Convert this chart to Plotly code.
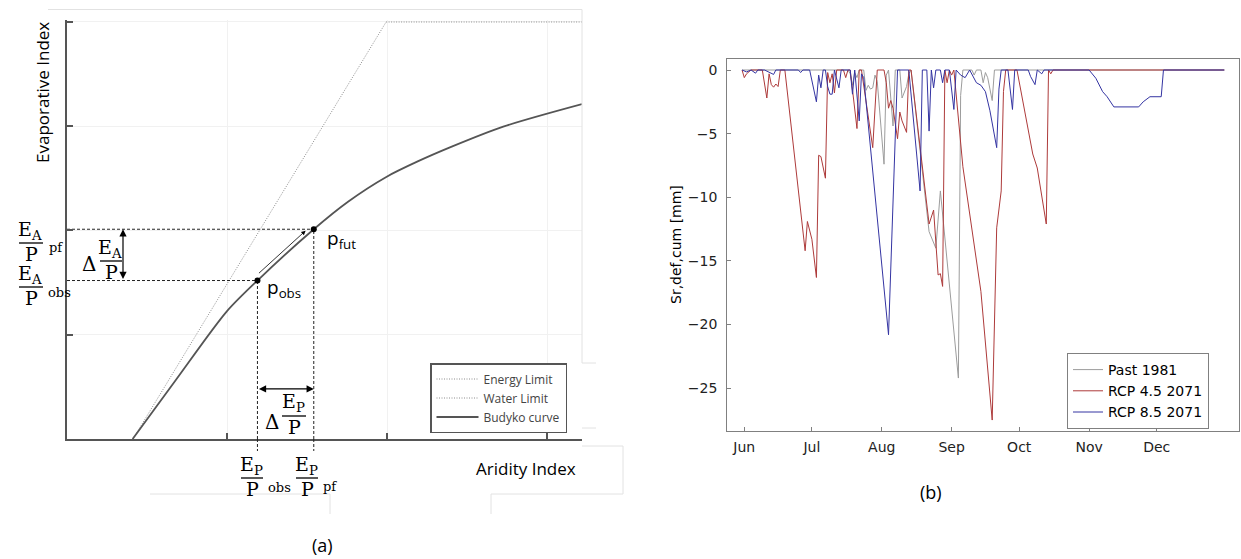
import datetime as dt
import plotly.graph_objects as go

W, H = 1241, 559

# ---------------- Panel (a): Budyko framework (schematic units) ----------------
budyko_ai = [0.205, 0.340, 0.498, 0.595, 0.771, 0.878, 0.999, 1.094, 1.202, 1.363, 1.609]
budyko_ei = [0.000, 0.1415, 0.305, 0.380, 0.503, 0.569, 0.629, 0.665, 0.701, 0.749, 0.803]
energy_ai = [0.206, 0.997]
energy_ei = [0.0, 1.0]
water_ai = [0.997, 1.609]
water_ei = [1.0, 1.0]
p_obs = (0.595, 0.380)
p_fut = (0.771, 0.503)

# ---------------- Panel (b): cumulative root-zone storage deficit ----------------
season_start = dt.date(2021, 6, 1)
month_ticks = ["2021-06-01", "2021-07-01", "2021-08-01", "2021-09-01",
               "2021-10-01", "2021-11-01", "2021-12-01"]
month_names = ["Jun", "Jul", "Aug", "Sep", "Oct", "Nov", "Dec"]

# (days after 1 June, deficit in mm)
past_1981 = [(-1, 0), (46, 0), (47, -0.3), (48, -1.2), (49, -0.2), (50, -0.6), (51, 0),
             (53, 0), (54, -1.6), (55, -1.2), (56, -1.5), (57, -1.4), (58, -0.4), (59, -0.9),
             (62, -7.4), (63, -0.4), (64, 0), (66, -4.4), (67, 0), (69, 0), (70, -2.2),
             (71, -1.7), (72, -1.3), (73, -0.3), (74, 0), (82, -12.7), (85, -14.0), (87, -9.5),
             (95, -24.2), (96, -2.0), (97, 0), (101, 0), (102, -0.4), (103, 0), (105, 0),
             (106, -1.0), (107, -0.2), (108, -0.6), (110, -2.4), (111, 0), (213, 0)]

rcp45_2071 = [(-1, 0), (0, -0.6), (1, -0.3), (3, 0), (8, 0), (10, -2.2), (11, -0.3),
              (12, -1.15), (13, -1.35), (14, -1.1), (15, -1.3), (16, 0), (18, 0), (27, -14.2),
              (28, -11.9), (30, -13.3), (32, -16.3), (33, -6.7), (34, -6.8), (36, -8.5),
              (37, -0.2), (38, -1.0), (39, -0.3), (40, -1.8), (41, 0), (44, 0), (45, -0.6),
              (46, 0), (47, 0), (50, -4.6), (51, 0), (52, 0), (57, -6.1), (59, 0), (62, 0),
              (63, -1.0), (64, -3.0), (65, -2.4), (66, -3.0), (68, -5.4), (69, -3.3), (70, -4.0),
              (72, -4.9), (73, 0), (74, 0), (82, -12.1), (84, -11.0), (86, -16.1), (87, -16.0),
              (88, -17.0), (89, 0), (90, -1.0), (91, 0), (92, -0.4), (93, 0), (97, -7.6),
              (105, -17.4), (110, -27.5), (112, -12.4), (114, -9.5), (115, -1.7), (116, 0),
              (121, 0), (128, -6.6), (130, -7.7), (134, -12.1), (135, 0), (136, -0.3), (137, 0),
              (213, 0)]

rcp85_2071 = [(-1, 0), (1, -0.15), (3, 0), (5, -0.25), (6, 0), (9, 0), (13, -0.35), (14, 0),
              (24, 0), (25, -0.2), (26, 0), (29, 0), (32, -2.5), (33, -0.4), (34, -1.4), (35, 0),
              (36, 0), (37, -1.3), (38, -1.9), (39, -1.9), (40, 0), (42, -1.4), (43, 0), (47, 0),
              (48, -1.9), (49, 0), (51, -4.0), (52, -0.3), (53, -0.6), (64, -20.8), (68, 0),
              (73, 0), (78, -9.5), (79, 0), (81, 0), (82, -4.8), (83, 0), (84, -1.4), (85, 0),
              (87, 0), (88, -1.0), (89, 0), (91, 0), (93, -3.1), (94, 0), (96, -0.4), (98, -0.6),
              (100, 0), (103, -1.0), (105, -1.2), (107, -1.7), (109, -3.2), (112, -6.1),
              (113, -1.5), (114, 0), (117, 0), (119, -3.1), (120, 0), (126, 0), (127, -0.5),
              (129, -1.15), (130, 0), (132, -0.3), (133, 0), (153, 0), (156, -0.65), (159, -1.7),
              (161, -2.1), (164, -2.9), (175, -2.9), (177, -2.5), (180, -2.1), (185, -2.1),
              (186, 0), (213, 0)]

series_b = [("Past 1981", past_1981, "#9c9c9c"),
            ("RCP 4.5 2071", rcp45_2071, "#ad3a3a"),
            ("RCP 8.5 2071", rcp85_2071, "#3434a2")]


def px_x(p):
    return p / W


def px_y(p):
    return 1 - p / H


fig = go.Figure()

# ---- panel (a) traces ----
limit_line = dict(color="#8c8c8c", width=1, dash="1px,1.5px")
fig.add_trace(go.Scatter(x=energy_ai, y=energy_ei, mode="lines", name="Energy Limit",
                         line=limit_line, legend="legend2", xaxis="x", yaxis="y"))
fig.add_trace(go.Scatter(x=water_ai, y=water_ei, mode="lines", name="Water Limit",
                         line=limit_line, legend="legend2", xaxis="x", yaxis="y"))
fig.add_trace(go.Scatter(x=budyko_ai, y=budyko_ei, mode="lines", name="Budyko curve",
                         line=dict(color="#555555", width=1.8, shape="spline", smoothing=0.8),
                         legend="legend2", xaxis="x", yaxis="y"))

guide = dict(color="#222222", width=1, dash="3px,2px")
for px_, py_ in (p_obs, p_fut):
    fig.add_trace(go.Scatter(x=[0, px_], y=[py_, py_], mode="lines", line=guide,
                             showlegend=False, hoverinfo="skip", xaxis="x", yaxis="y"))
    fig.add_trace(go.Scatter(x=[px_, px_], y=[0, py_], mode="lines", line=guide,
                             showlegend=False, hoverinfo="skip", xaxis="x", yaxis="y"))

fig.add_trace(go.Scatter(x=[p_obs[0], p_fut[0]], y=[p_obs[1], p_fut[1]], mode="markers",
                         marker=dict(color="black", size=6), showlegend=False,
                         xaxis="x", yaxis="y"))

# ---- panel (b) traces ----
for name, pts, col in series_b:
    fig.add_trace(go.Scatter(
        x=[season_start + dt.timedelta(days=d) for d, _ in pts],
        y=[v for _, v in pts],
        mode="lines", name=name, line=dict(color=col, width=1),
        legend="legend", xaxis="x2", yaxis="y2"))

shapes = []
annotations = []

# dashed guides continue a little below the aridity axis
for px_, _ in (p_obs, p_fut):
    shapes.append(dict(type="line", xref="x", yref="paper", x0=px_, x1=px_,
                       y0=px_y(439), y1=px_y(451), line=guide))


def text(t, x, y, size, family="Open Sans", xanchor="center", yanchor="middle",
         color="black", angle=0):
    annotations.append(dict(text=t, x=px_x(x), y=px_y(y), xref="paper", yref="paper",
                            showarrow=False, xanchor=xanchor, yanchor=yanchor,
                            textangle=angle, font=dict(family=family, size=size, color=color)))


MATH = "DejaVu Serif"


def fraction(num, cx, bar_y, half_w, suffix=None, sx=None, sy=None):
    text(num, cx - 1, bar_y - 13, 19, MATH)
    text("P", cx, bar_y + 11, 19, MATH)
    shapes.append(dict(type="line", xref="paper", yref="paper",
                       x0=px_x(cx - half_w), x1=px_x(cx + half_w),
                       y0=px_y(bar_y), y1=px_y(bar_y), line=dict(color="black", width=1.3)))
    if suffix:
        text(suffix, sx, sy, 13, MATH, xanchor="left")


EA = "E<sub>A</sub>"
EP = "E<sub>P</sub>"
fraction(EA, 31, 243, 12, "pf", 47, 247)
fraction(EA, 31, 287, 12, "obs", 46, 292)
text("Δ", 89, 264, 20, MATH)
fraction(EA, 111, 261, 11)
fraction(EP, 252, 478, 11, "obs", 266, 488)
fraction(EP, 307, 478, 11, "pf", 321, 486)
text("Δ", 272, 422, 20, MATH)
fraction(EP, 294, 416, 12)

text("p<sub>obs</sub>", 265, 288, 19, xanchor="left")
text("p<sub>fut</sub>", 325, 239, 19, xanchor="left")
text("Aridity Index", 578, 468, 17, xanchor="right")
text("Evaporative Index", 43, 93, 17, angle=-90)
text("(a)", 322, 545, 18)
text("(b)", 931, 492, 18)
text("Sr,def,cum [mm]", 676, 245, 14, family="DejaVu Sans", angle=-90)

# vertical and horizontal change arrows, and the shift along the curve
annotations.append(dict(x=(123 - 67) / 515, y=p_fut[1], xref="x domain", yref="y",
                        ax=(123 - 67) / 515, ay=p_obs[1], axref="x domain", ayref="y",
                        text="", showarrow=True, arrowhead=2, arrowside="end+start",
                        arrowsize=1.2, arrowwidth=1.2, arrowcolor="black"))
annotations.append(dict(x=p_fut[0], y=0.12, xref="x", yref="y",
                        ax=p_obs[0], ay=0.12, axref="x", ayref="y",
                        text="", showarrow=True, arrowhead=2, arrowside="end+start",
                        arrowsize=1.2, arrowwidth=1.2, arrowcolor="black"))
annotations.append(dict(x=p_fut[0], y=p_fut[1], xref="x", yref="y",
                        ax=p_obs[0], ay=p_obs[1], axref="x", ayref="y", yshift=6,
                        standoff=11, text="", showarrow=True, arrowhead=2,
                        arrowsize=1.1, arrowwidth=0.8, arrowcolor="black"))

# faint outline of the left panel
faint = dict(color="#e2e2e2", width=1)
for x0, y0, x1, y1 in [(48, 9.5, 582, 9.5), (582, 9.5, 582, 363), (582, 363, 596, 363),
                       (582, 428, 596, 428), (582, 446, 623, 446), (623, 446, 623, 494),
                       (491, 494, 623, 494), (491, 494, 491, 514), (150, 494, 330, 494),
                       (330, 494, 330, 514)]:
    shapes.append(dict(type="line", xref="paper", yref="paper", x0=px_x(x0), x1=px_x(x1),
                       y0=px_y(y0), y1=px_y(y1), line=faint))

axis_a = dict(showline=True, linecolor="#555555", linewidth=2, ticks="inside",
              tickcolor="#555555", tickwidth=1.5, ticklen=6, showticklabels=False,
              showgrid=True, gridcolor="#f1f1f1", gridwidth=1, zeroline=False)
axis_b = dict(showline=True, linecolor="#808080", linewidth=1.3, mirror=True,
              ticks="inside", tickcolor="#808080", ticklen=4, showgrid=False,
              zeroline=False, tickfont=dict(family="DejaVu Sans", size=14, color="#222222"))

fig.update_layout(
    width=W, height=H, margin=dict(l=0, r=0, t=0, b=0),
    paper_bgcolor="white", plot_bgcolor="white",
    xaxis=dict(domain=[px_x(67), px_x(582)], range=[0, 1.609],
               tickvals=[0, 0.5, 1.0, 1.5], anchor="y", **axis_a),
    yaxis=dict(domain=[px_y(439), px_y(19.9)], range=[0, 1.005],
               tickvals=[0, 0.25, 0.5, 0.75, 1.0], anchor="x", **axis_a),
    xaxis2=dict(domain=[px_x(727.3), px_x(1239)], type="date",
                range=["2021-05-24 11:00", "2022-01-06 12:30"],
                tickvals=month_ticks, ticktext=month_names, anchor="y2",
                ticklabelstandoff=3, **axis_b),
    yaxis2=dict(domain=[px_y(431), px_y(59)], range=[-28.36, 0.864],
                tickvals=[0, -5, -10, -15, -20, -25], anchor="x2",
                ticklabelstandoff=6, **axis_b),
    legend=dict(x=px_x(1067), y=px_y(353), xanchor="left", yanchor="top",
                bgcolor="white", bordercolor="#808080", borderwidth=1,
                font=dict(family="DejaVu Sans", size=14, color="black"),
                tracegroupgap=0),
    legend2=dict(x=px_x(430), y=px_y(363), xanchor="left", yanchor="top",
                 bgcolor="white", bordercolor="#555555", borderwidth=1.5,
                 font=dict(family="Open Sans", size=12, color="#444444"),
                 itemwidth=42, tracegroupgap=0),
    shapes=shapes, annotations=annotations, showlegend=True,
)

fig.write_html("out.html")
